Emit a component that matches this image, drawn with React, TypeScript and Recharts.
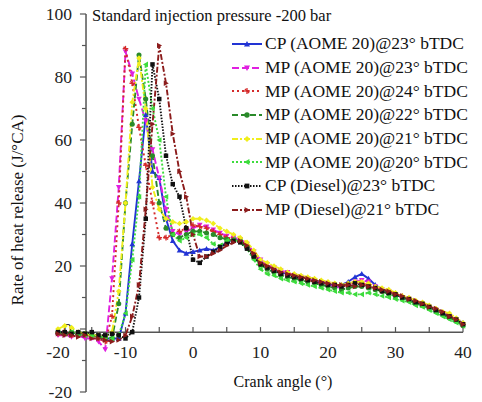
import React from 'react';
import { LineChart, Line, XAxis, YAxis, ReferenceLine } from 'recharts';

// crank angle (deg), one reading per degree
const crankAngle = [
  -20, -19, -18, -17, -16, -15, -14, -13, -12, -11, -10, -9, -8, -7, -6, -5, -4, -3, -2, -1,
  0, 1, 2, 3, 4, 5, 6, 7, 8, 9, 10, 11, 12, 13, 14, 15, 16, 17, 18, 19,
  20, 21, 22, 23, 24, 25, 26, 27, 28, 29, 30, 31, 32, 33, 34, 35, 36, 37, 38, 39, 40,
];

// rate of heat release (J/°CA)
const cpAome23 = [
  -1, -1, -1.5, -1, -2, -2, -2.5, -3, -3, -3, 5, 27, 47, 68, 50, 48, 35, 28, 25, 24,
  24.5, 25, 25.5, 25, 26, 27.5, 28.5, 28, 26, 24, 21.5, 20, 19, 18, 17.5, 17, 16.5, 16, 15.5, 15,
  14.5, 14, 14, 15, 16.5, 17.5, 16, 14, 12.5, 12, 11, 10, 9.5, 8.5, 8, 7, 6, 5, 4, 3, 2,
];
const mpAome23 = [
  -2, -2, -2.5, -2, -3, -3, -4, -6.5, 16, 45, 88, 81, 73, 66, 57, 48, 38, 31, 30, 31,
  32, 33, 32.5, 31.5, 30.5, 29.5, 29, 28.5, 27, 24.5, 22, 20.5, 19.5, 18.5, 18, 17, 16.5, 16, 15, 14.5,
  14, 13.5, 13, 14, 15, 15.5, 15, 13.5, 12.5, 12, 11, 10, 9.5, 8.5, 7.5, 7, 6, 5, 4, 3, 1.5,
];
const mpAome24 = [
  -1.5, -1, -2, -1.5, -2, -2.5, -3, -4, 4, 40, 89, 78, 64, 52, 40, 29, 29, 30, 31, 32,
  33, 32.5, 32, 31, 30, 29, 28.5, 28, 26, 24, 21, 20, 19, 18, 17.5, 17, 16, 15.5, 15, 14.5,
  14.5, 14, 13.5, 14, 14.5, 14.5, 14, 13, 12, 11.5, 11, 10.5, 9.5, 8.5, 8, 7, 6, 5, 4, 3, 1.5,
];
const mpAome22 = [
  -1, -1.5, -1, -2, -1.5, -2, -2.5, -3, -3, 8, 40, 65, 87, 73, 55, 40, 32, 30, 29, 30,
  31, 31, 30.5, 30, 29, 28.5, 28, 28, 26, 23, 20.5, 19, 18, 17, 16.5, 16, 15.5, 15, 14.5, 14,
  13.5, 13, 12.5, 13, 13.5, 13.5, 13, 12.5, 12, 11, 10.5, 10, 9, 8, 7.5, 6.5, 5.5, 4.5, 3.5, 2.5, 1,
];
const mpAome21 = [
  0, 1, 0.5, -1, -1.5, -2, -2, -2.5, -1, 12, 40, 72, 86, 70, 45, 38, 35, 34, 33.5, 34,
  35, 35, 34.5, 33.5, 32, 31, 30, 29, 27.5, 25, 22, 21, 20, 19, 18, 17.5, 17, 16.5, 16, 15.5,
  15, 14.5, 14, 14.5, 15, 15, 14.5, 13.5, 13, 12.5, 11.5, 10.5, 10, 9, 8.5, 7.5, 6.5, 5.5, 5, 3.5, 2,
];
const mpAome20 = [
  -1, -1.5, -1, -1.5, -2, -2, -2.5, -2.5, -3, -2, 5, 22, 42, 84, 70, 60, 42, 30, 28, 29,
  30, 30, 29, 27, 26.5, 28, 28.5, 27.5, 25.5, 22, 19, 17.5, 17, 16, 15.5, 15, 14.5, 14, 13.5, 13,
  12.5, 12, 11.5, 11.5, 11, 11, 11.5, 11, 10.5, 10, 9.5, 9, 8.5, 7.5, 7, 6, 5, 4, 3, 2, 1,
];
const cpDiesel23 = [
  -1, -1, -1.5, -1, -1.5, -1, -2, -2, -1.5, -2, -3, -1, 10, 35, 84, 73, 55, 46, 42, 32,
  22, 21, 23, 24.5, 26, 27, 28, 27.5, 25.5, 23, 20.5, 19.5, 18.5, 17.5, 17, 16.5, 16, 15.5, 15, 14.5,
  14, 14, 13.5, 14, 14.5, 14, 13.5, 13, 12, 11.5, 11, 10, 9.5, 8.5, 8, 7, 6, 5, 4, 3, 1.5,
];
const mpDiesel21 = [
  -1.5, -2, -2, -2.5, -2, -3, -3, -3.5, -4, -3.5, -2, 4, 14, 38, 65, 90, 78, 62, 50, 42,
  30, 23, 23, 24, 25, 26.5, 27.5, 28, 26.5, 24, 21, 20, 19, 18, 17.5, 17, 16.5, 16, 15.5, 15,
  14.5, 14, 14, 14, 13.5, 14, 13.5, 13, 12.5, 12, 11, 10.5, 9.5, 9, 8, 7, 6.5, 5.5, 4, 3, 1.5,
];

const xTicks = [-20, -15, -10, -5, 0, 5, 10, 15, 20, 25, 30, 35, 40];
const xLabels = [-20, -10, 0, 10, 20, 30, 40];
const yTicks = [-20, -10, 0, 10, 20, 30, 40, 50, 60, 70, 80, 90, 100];
const yLabels = [-20, 0, 20, 40, 60, 80, 100];

const series = [
  { key: 'cpAome23', name: 'CP (AOME 20)@23° bTDC', color: '#2234d4', dash: undefined, shape: 'triUp' },
  { key: 'mpAome23', name: 'MP (AOME 20)@23° bTDC', color: '#e020e0', dash: '7 3', shape: 'triDown' },
  { key: 'mpAome24', name: 'MP (AOME 20)@24° bTDC', color: '#d42a2a', dash: '2 3', shape: 'star' },
  { key: 'mpAome22', name: 'MP (AOME 20)@22° bTDC', color: '#2a8a2a', dash: '6 3', shape: 'circle' },
  { key: 'mpAome21', name: 'MP (AOME 20)@21° bTDC', color: '#f0ee1c', dash: '6 2 2 2', shape: 'diamond' },
  { key: 'mpAome20', name: 'MP (AOME 20)@20° bTDC', color: '#3ddc3d', dash: '2 2', shape: 'triLeft' },
  { key: 'cpDiesel23', name: 'CP (Diesel)@23° bTDC', color: '#111111', dash: '1.5 1.5', shape: 'square' },
  { key: 'mpDiesel21', name: 'MP (Diesel)@21° bTDC', color: '#8c1c1c', dash: '6 2 2 2', shape: 'triRight' },
];

const data = crankAngle.map((a, i) => ({
  angle: a,
  cpAome23: cpAome23[i],
  mpAome23: mpAome23[i],
  mpAome24: mpAome24[i],
  mpAome22: mpAome22[i],
  mpAome21: mpAome21[i],
  mpAome20: mpAome20[i],
  cpDiesel23: cpDiesel23[i],
  mpDiesel21: mpDiesel21[i],
}));

const FONT = '"Liberation Serif", "Times New Roman", serif';
const AXIS = '#555';
const Y_AXIS_AT = -15.85;
const X_AXIS_AT = -1;

const marker = (shape: string, x: number, y: number, color: string, s = 2.8) => {
  switch (shape) {
    case 'triUp':
      return <polygon points={`${x},${y - s} ${x + s},${y + s * 0.8} ${x - s},${y + s * 0.8}`} fill={color} />;
    case 'triDown':
      return <polygon points={`${x},${y + s} ${x + s},${y - s * 0.8} ${x - s},${y - s * 0.8}`} fill={color} />;
    case 'triLeft':
      return <polygon points={`${x - s},${y} ${x + s * 0.8},${y - s} ${x + s * 0.8},${y + s}`} fill={color} />;
    case 'triRight':
      return <polygon points={`${x + s},${y} ${x - s * 0.8},${y - s} ${x - s * 0.8},${y + s}`} fill={color} />;
    case 'diamond':
      return <polygon points={`${x},${y - s} ${x + s},${y} ${x},${y + s} ${x - s},${y}`} fill={color} />;
    case 'square':
      return <rect x={x - s * 0.8} y={y - s * 0.8} width={s * 1.6} height={s * 1.6} fill={color} />;
    case 'star':
      return (
        <g stroke={color} strokeWidth={1.3}>
          <line x1={x - s} y1={y} x2={x + s} y2={y} />
          <line x1={x} y1={y - s} x2={x} y2={y + s} />
          <line x1={x - s * 0.7} y1={y - s * 0.7} x2={x + s * 0.7} y2={y + s * 0.7} />
        </g>
      );
    default:
      return <circle cx={x} cy={y} r={s * 0.9} fill={color} />;
  }
};

// tick label renderers for the hand-placed axes
const yTickLabel = (v: number) => (props: any) => {
  const vb = props.viewBox || {};
  return (
    <text x={vb.x - 8} y={vb.y + (vb.height || 0) / 2} dy="0.35em" textAnchor="end" fill="#222" fontSize={17.5} fontFamily={FONT}>
      {v}
    </text>
  );
};
const xTickLabel = (v: number) => (props: any) => {
  const vb = props.viewBox || {};
  return (
    <text x={vb.x + (vb.width || 0) / 2} y={vb.y + 20} dy="0.35em" textAnchor="middle" fill="#222" fontSize={17.5} fontFamily={FONT}>
      {v}
    </text>
  );
};

const Legend8 = () => (
  <div style={{ position: 'absolute', left: 231, top: 32, fontFamily: FONT, fontSize: 17.5, color: '#111' }}>
    {series.map(s => (
      <div key={s.key} style={{ display: 'flex', alignItems: 'center', height: 23.7, whiteSpace: 'nowrap' }}>
        <svg width={32} height={12} style={{ marginRight: 2 }}>
          <line x1={1} y1={6} x2={31} y2={6} stroke={s.color} strokeWidth={2} strokeDasharray={s.dash} />
          {marker(s.shape, 16, 6, s.color, 3)}
        </svg>
        <span>{s.name}</span>
      </div>
    ))}
  </div>
);

export default function App() {
  return (
    <div style={{ position: 'relative', width: 482, height: 402, background: '#fff', fontFamily: FONT }}>
      <style>{'body{margin:0}'}</style>
      <LineChart width={482} height={402} data={data} margin={{ top: 14, right: 19, bottom: 10, left: 58 }}>
        <XAxis type="number" dataKey="angle" domain={[-20, 40]} hide />
        <YAxis type="number" domain={[-20, 100]} hide />

        {/* y axis drawn inside the plot, crossing near -16 */}
        <ReferenceLine segment={[{ x: Y_AXIS_AT, y: -20 }, { x: Y_AXIS_AT, y: 100 }]} stroke={AXIS} strokeWidth={1.5} />
        {yTicks.map(v => (
          <ReferenceLine
            key={`yt${v}`}
            segment={[{ x: Y_AXIS_AT - (yLabels.includes(v) ? 0.9 : 0.6), y: v }, { x: Y_AXIS_AT, y: v }]}
            stroke={AXIS}
            strokeWidth={1.2}
            label={yLabels.includes(v) ? { content: yTickLabel(v) } : undefined}
          />
        ))}

        {/* x axis at y = -1 */}
        <ReferenceLine segment={[{ x: -20, y: X_AXIS_AT }, { x: 40, y: X_AXIS_AT }]} stroke={AXIS} strokeWidth={1.5} />
        {xTicks.map(v => (
          <ReferenceLine
            key={`xt${v}`}
            segment={[{ x: v, y: X_AXIS_AT }, { x: v, y: X_AXIS_AT + 1.6 }]}
            stroke={AXIS}
            strokeWidth={1.2}
          />
        ))}
        {xLabels.map(v => (
          <ReferenceLine
            key={`xl${v}`}
            segment={[{ x: v, y: X_AXIS_AT }, { x: v, y: X_AXIS_AT }]}
            stroke="none"
            label={{ content: xTickLabel(v) }}
          />
        ))}

        {series.map(s => (
          <Line
            key={s.key}
            type="linear"
            dataKey={s.key}
            name={s.name}
            stroke={s.color}
            strokeWidth={1.9}
            strokeDasharray={s.dash}
            isAnimationActive={false}
            dot={(p: any) => <g key={`${s.key}-${p.index}`}>{marker(s.shape, p.cx, p.cy, s.color)}</g>}
            activeDot={false}
          />
        ))}
      </LineChart>

      <div style={{ position: 'absolute', left: 92, top: 6, fontSize: 16.5, color: '#111', whiteSpace: 'nowrap' }}>
        Standard injection pressure -200 bar
      </div>
      <Legend8 />
      <div style={{ position: 'absolute', left: 283, top: 382, transform: 'translate(-50%, -50%)', fontSize: 16, color: '#111', whiteSpace: 'nowrap' }}>
        Crank angle (°)
      </div>
      <div style={{ position: 'absolute', left: 18, top: 210, transform: 'translate(-50%, -50%) rotate(-90deg)', fontSize: 17, color: '#111', whiteSpace: 'nowrap' }}>
        Rate of heat release (J/°CA)
      </div>
    </div>
  );
}
